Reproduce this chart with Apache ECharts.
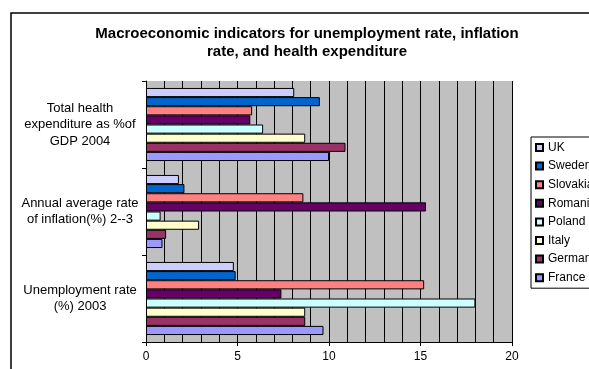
<!DOCTYPE html>
<html>
<head>
<meta charset="utf-8">
<script src="https://cdn.jsdelivr.net/npm/echarts@6/dist/echarts.min.js"></script>
<style>html,body{margin:0;padding:0;background:#fff}#c{width:589px;height:369px}</style>
</head>
<body>
<div id="c"></div>
<script>
var categories = ['Unemployment rate\n(%) 2003', 'Annual average rate\nof inflation(%) 2--3', 'Total health\nexpenditure as %of\nGDP 2004'];
// listed top-to-bottom as drawn within each group (and in the legend)
var seriesNames = ['UK', 'Sweden', 'Slovakia', 'Romania', 'Poland', 'Italy', 'Germany', 'France'];
var seriesColors = ['#CCCCFF', '#0066CC', '#FF8080', '#660066', '#CCFFFF', '#FFFFCC', '#993366', '#9999FF'];
// values per series: [unemployment, inflation, health]
var UK       = [4.8, 1.8, 8.1];
var Sweden   = [4.9, 2.1, 9.5];
var Slovakia = [15.2, 8.6, 5.8];
var Romania  = [7.4, 15.3, 5.7];
var Poland   = [18.0, 0.8, 6.4];
var Italy    = [8.7, 2.9, 8.7];
var Germany  = [8.7, 1.1, 10.9];
var France   = [9.7, 0.9, 10.0];
var xTicks = [0, 5, 10, 15, 20];
var titleLines = ['Macroeconomic indicators for unemployment rate, inflation', 'rate, and health expenditure'];

var values = [UK, Sweden, Slovakia, Romania, Poland, Italy, Germany, France];
var chart = echarts.init(document.getElementById('c'), null, {renderer: 'canvas'});
var series = seriesNames.map(function (n, i) {
  return {
    name: n, type: 'bar', data: values[i],
    barGap: '0%', barCategoryGap: '16%',
    itemStyle: {color: seriesColors[i], borderColor: '#000', borderWidth: 1},
    emphasis: {disabled: true}
  };
});
chart.setOption({
  animation: false,
  textStyle: {fontFamily: 'Liberation Sans, Arial, sans-serif'},
  graphic: [
    {type: 'rect', shape: {x: 11, y: 13, width: 640, height: 420}, style: {fill: 'none', stroke: '#000', lineWidth: 1.5}, silent: true},
    {type: 'text', x: 307, y: 43, style: {text: titleLines.join('\n'), textAlign: 'center', textVerticalAlign: 'middle', font: 'bold 15px "Liberation Sans", Arial, sans-serif', lineHeight: 18, fill: '#000'}, silent: true, z: 10}
  ],
  grid: {left: 146, top: 81, right: 77, bottom: 27, show: true, backgroundColor: '#C0C0C0', borderWidth: 0},
  legend: {
    orient: 'vertical', left: 531, top: 137,
    data: seriesNames.slice(),
    itemWidth: 7, itemHeight: 7, itemGap: 5.6,
    padding: [4, 4, 4, 4],
    borderColor: '#000', borderWidth: 1, backgroundColor: '#fff',
    textStyle: {fontSize: 12, color: '#000', lineHeight: 13},
    icon: 'rect'
  },
  xAxis: {
    type: 'value', min: xTicks[0], max: xTicks[xTicks.length - 1], interval: 5,
    axisLine: {show: true, lineStyle: {color: '#000', width: 1}},
    axisTick: {show: true, length: 4, lineStyle: {color: '#000'}},
    axisLabel: {fontSize: 12, color: '#000', margin: 9},
    splitLine: {show: true, lineStyle: {color: '#000', width: 1}},
    minorTick: {show: false, splitNumber: 5},
    minorSplitLine: {show: true, lineStyle: {color: '#000', width: 1}}
  },
  yAxis: {
    type: 'category', data: categories,
    axisLine: {show: true, lineStyle: {color: '#000', width: 1}},
    axisTick: {show: true, length: 4, lineStyle: {color: '#000'}},
    axisLabel: {fontSize: 13, color: '#000', align: 'center', margin: 66, lineHeight: 16.5}
  },
  series: series
});
</script>
</body>
</html>
